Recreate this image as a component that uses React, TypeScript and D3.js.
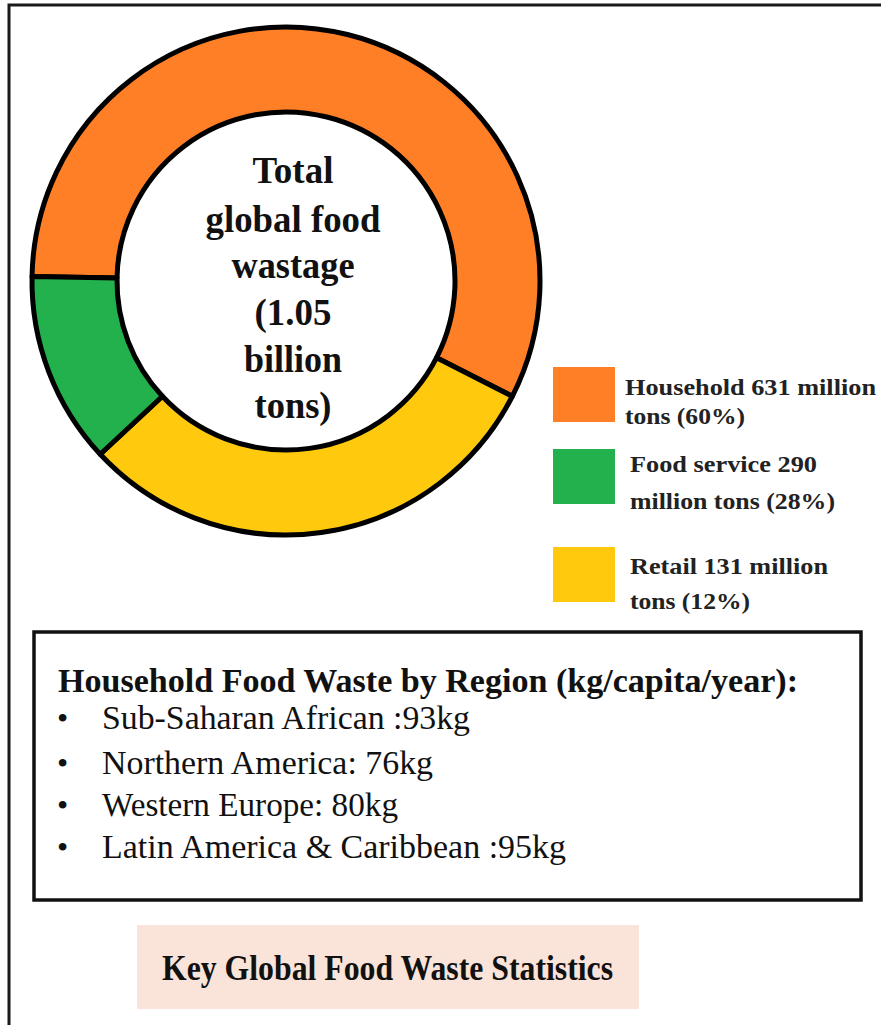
import React from "react";
import * as d3 from "d3";

// Donut segments, clockwise from the left (orange/green) boundary, in degrees as drawn
const segmentNames = ["Household", "Retail", "Food service"];
const segmentDegrees = [206, 110, 44];
const segmentColors = ["#FF7F27", "#FFC90E", "#22B14C"];

const centerLines = ["Total", "global food", "wastage", "(1.05", "billion", "tons)"];

const legendColors = ["#FF7F27", "#22B14C", "#FFC90E"];
const legendLines = [
  ["Household 631 million", "tons (60%)"],
  ["Food service 290", "million tons (28%)"],
  ["Retail 131 million", "tons (12%)"],
];

const regionHeader = "Household Food Waste by Region (kg/capita/year):";
const regionLines = [
  "Sub-Saharan African :93kg",
  "Northern America: 76kg",
  "Western Europe: 80kg",
  "Latin America & Caribbean :95kg",
];

const titleText = "Key Global Food Waste Statistics";

const SERIF = "Liberation Serif";

export default function App() {
  const W = 881;
  const H = 1025;
  const cx = 286;
  const cy = 281;
  const outerR = 254;
  const innerR = 169;
  const start = (271 * Math.PI) / 180;

  const pie = d3
    .pie<number>()
    .sort(null)
    .value((d) => d)
    .startAngle(start)
    .endAngle(start + 2 * Math.PI);
  const arcs = pie(segmentDegrees);
  const arcGen = d3.arc<d3.PieArcDatum<number>>().innerRadius(innerR).outerRadius(outerR);

  const centerBaselines = [183, 232, 278, 325, 372, 418];
  const centerLengths = [81, 175, 123, 77, 98, 77];

  const legendBoxY = [367, 449, 547];
  const legendTextX = [625, 630, 630];
  const legendBase = [
    [395, 424],
    [472, 509],
    [574, 609],
  ];
  const legendLen = [
    [251, 120],
    [187, 205],
    [198, 120],
  ];

  const regionBaselines = [729, 774, 816, 858];
  const regionEnds = [470, 433, 398, 566];

  return (
    <svg
      width={W}
      height={H}
      style={{ position: "absolute", left: 0, top: 0, display: "block", background: "#fff" }}
    >
      {/* outer frame (only left and top edges visible) */}
      <rect x={9} y={5} width={1000} height={1200} fill="none" stroke="#1a1a1a" strokeWidth={3} />

      {/* donut */}
      <g transform={`translate(${cx},${cy})`}>
        {arcs.map((a, i) => (
          <path
            key={segmentNames[i]}
            d={arcGen(a) || ""}
            fill={segmentColors[i]}
            stroke="#000"
            strokeWidth={5}
            strokeLinejoin="round"
          />
        ))}
      </g>

      {/* center text */}
      {centerLines.map((t, i) => (
        <text
          key={t}
          x={293}
          y={centerBaselines[i]}
          textAnchor="middle"
          fontFamily={SERIF}
          fontWeight="bold"
          fontSize={37}
          fill="#111"
          textLength={centerLengths[i]}
          lengthAdjust="spacingAndGlyphs"
        >
          {t}
        </text>
      ))}

      {/* legend */}
      {legendLines.map((lines, i) => (
        <g key={i}>
          <rect x={553} y={legendBoxY[i]} width={62} height={55} fill={legendColors[i]} />
          {lines.map((t, j) => (
            <text
              key={t}
              x={legendTextX[i]}
              y={legendBase[i][j]}
              fontFamily={SERIF}
              fontWeight="bold"
              fontSize={24}
              fill="#222"
              textLength={legendLen[i][j]}
              lengthAdjust="spacingAndGlyphs"
            >
              {t}
            </text>
          ))}
        </g>
      ))}

      {/* region box */}
      <rect x={34} y={632} width={827} height={268} fill="#fff" stroke="#111" strokeWidth={3.5} />
      <text
        x={58}
        y={692}
        fontFamily={SERIF}
        fontWeight="bold"
        fontSize={33}
        fill="#111"
        textLength={740}
        lengthAdjust="spacingAndGlyphs"
      >
        {regionHeader}
      </text>
      {regionLines.map((t, i) => (
        <g key={t}>
          <text x={57} y={regionBaselines[i]} fontFamily={SERIF} fontSize={32} fill="#111">
            •
          </text>
          <text
            x={102}
            y={regionBaselines[i]}
            fontFamily={SERIF}
            fontSize={33}
            fill="#111"
            textLength={regionEnds[i] - 102}
            lengthAdjust="spacingAndGlyphs"
          >
            {t}
          </text>
        </g>
      ))}

      {/* title box */}
      <rect x={137} y={925} width={502} height={84} fill="#FAE3D8" />
      <text
        x={162}
        y={980}
        fontFamily={SERIF}
        fontWeight="bold"
        fontSize={35}
        fill="#111"
        textLength={451}
        lengthAdjust="spacingAndGlyphs"
      >
        {titleText}
      </text>
    </svg>
  );
}
